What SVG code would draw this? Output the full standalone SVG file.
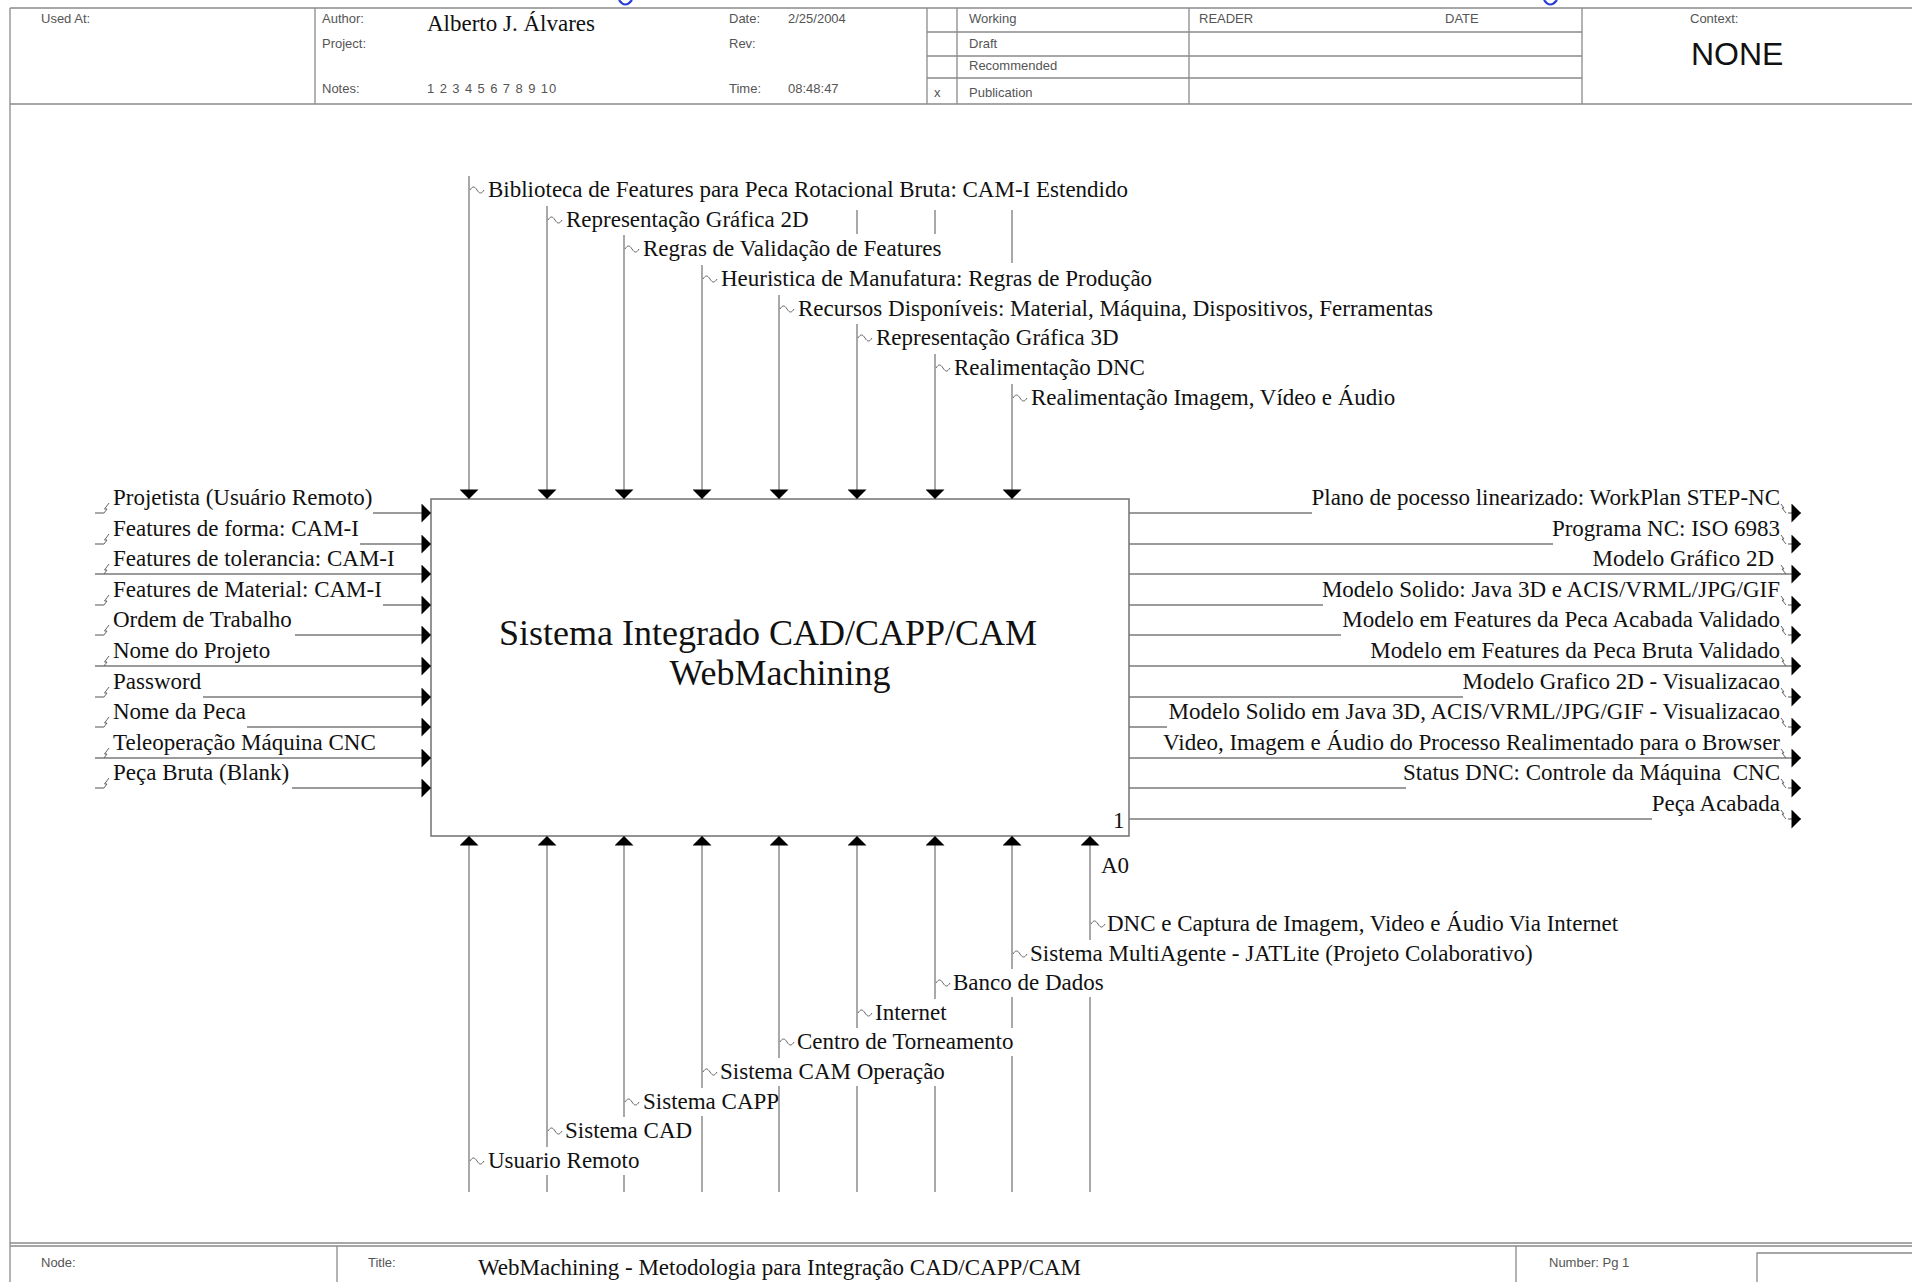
<svg xmlns="http://www.w3.org/2000/svg" width="1912" height="1282" viewBox="0 0 1912 1282">
<style>
  .frame{stroke:#8a8a8a;stroke-width:1.3;fill:none}
  .ln{stroke:#7a7a7a;stroke-width:1.3;fill:none}
  .arr{stroke:#7a7a7a;stroke-width:1.3;fill:none;marker-end:url(#head)}
  .sq{stroke:#555;stroke-width:0.9;fill:none}
  .lbl{font-family:"Liberation Serif","Times New Roman",serif;font-size:23px;fill:#111}
  .end{text-anchor:end}
  .hdr{font-family:"Liberation Sans",Arial,sans-serif;font-size:13px;fill:#555}
  .box{fill:#fff;stroke:#7a7a7a;stroke-width:1.6}
  .title{font-family:"Liberation Serif","Times New Roman",serif;font-size:36px;fill:#111;text-anchor:middle}
</style>
<defs>
  <marker id="head" viewBox="0 0 10 20" refX="10" refY="10" markerWidth="10" markerHeight="19" markerUnits="userSpaceOnUse" orient="auto">
    <path d="M0,0 L10,10 L0,20 Z" fill="#000"/>
  </marker>
</defs>
<rect width="1912" height="1282" fill="#fff"/>

<!-- clipped ascender marks along the top edge -->
<g id="top-edge" stroke="#2b3bd6" stroke-width="2.2" fill="none">
  <path d="M619,0 q6,9 13,0"/>
  <path d="M1544,0 q6,9 13,0"/>
</g>

<!-- drawing frame and header block -->
<g id="header">
  <line class="frame" x1="10" y1="8" x2="1912" y2="8"/>
  <line class="frame" x1="10" y1="104" x2="1912" y2="104" stroke-width="2"/>
  <line class="frame" x1="10" y1="8" x2="10" y2="1282"/>
  <line class="frame" x1="315" y1="8" x2="315" y2="104"/>
  <line class="frame" x1="927" y1="8" x2="927" y2="104"/>
  <line class="frame" x1="957" y1="8" x2="957" y2="104"/>
  <line class="frame" x1="1189" y1="8" x2="1189" y2="104"/>
  <line class="frame" x1="1582" y1="8" x2="1582" y2="104"/>
  <line class="frame" x1="927" y1="32" x2="1582" y2="32"/>
  <line class="frame" x1="927" y1="56" x2="1582" y2="56"/>
  <line class="frame" x1="927" y1="78" x2="1582" y2="78"/>
  <text class="hdr" x="41" y="23">Used At:</text>
  <text class="hdr" x="322" y="23">Author:</text>
  <text class="hdr" x="322" y="48">Project:</text>
  <text class="hdr" x="322" y="93">Notes:</text>
  <text class="lbl" x="427" y="31">Alberto J. Álvares</text>
  <text class="hdr" x="427" y="93" fill="#444" letter-spacing="0.9">1 2 3 4 5 6 7 8 9 10</text>
  <text class="hdr" x="729" y="23">Date:</text>
  <text class="hdr" x="788" y="23" fill="#444">2/25/2004</text>
  <text class="hdr" x="729" y="48">Rev:</text>
  <text class="hdr" x="729" y="93">Time:</text>
  <text class="hdr" x="788" y="93" fill="#444">08:48:47</text>
  <text class="hdr" x="934" y="97">x</text>
  <text class="hdr" x="969" y="23">Working</text>
  <text class="hdr" x="969" y="48">Draft</text>
  <text class="hdr" x="969" y="70">Recommended</text>
  <text class="hdr" x="969" y="97">Publication</text>
  <text class="hdr" x="1199" y="23">READER</text>
  <text class="hdr" x="1445" y="23">DATE</text>
  <text class="hdr" x="1690" y="23">Context:</text>
  <text x="1691" y="65" font-family="Liberation Sans, Arial, sans-serif" font-size="32" fill="#111">NONE</text>
</g>

<!-- footer block -->
<g id="footer">
  <line class="frame" x1="10" y1="1243" x2="1912" y2="1243"/>
  <line class="frame" x1="10" y1="1246" x2="1912" y2="1246"/>
  <line class="frame" x1="337" y1="1246" x2="337" y2="1282"/>
  <line class="frame" x1="1516" y1="1246" x2="1516" y2="1282"/>
  <path class="frame" d="M1757,1282 V1253 H1912"/>
  <text class="hdr" x="41" y="1267">Node:</text>
  <text class="hdr" x="368" y="1267">Title:</text>
  <text class="lbl" x="478" y="1275">WebMachining - Metodologia para Integração CAD/CAPP/CAM</text>
  <text class="hdr" x="1549" y="1267">Number:  Pg 1</text>
</g>

<!-- activity A0 -->
<g id="node-A0">
  <rect class="box" x="431" y="499" width="698" height="337"/>
  <text class="title" x="768" y="645">Sistema Integrado CAD/CAPP/CAM</text>
  <text class="title" x="780" y="685">WebMachining</text>
  <text class="lbl" x="1113" y="828">1</text>
  <text class="lbl" x="1101" y="873">A0</text>
</g>

<g id="connectors">
  <!-- controls (top) -->
  <g id="controls">
    <line class="arr" x1="469" y1="176" x2="469" y2="499"/>
    <line class="arr" x1="547" y1="206" x2="547" y2="499"/>
    <line class="arr" x1="624" y1="235" x2="624" y2="499"/>
    <line class="arr" x1="702" y1="265" x2="702" y2="499"/>
    <line class="arr" x1="779" y1="295" x2="779" y2="499"/>
    <line class="arr" x1="857" y1="324" x2="857" y2="499"/>
    <line class="arr" x1="935" y1="354" x2="935" y2="499"/>
    <line class="arr" x1="1012" y1="384" x2="1012" y2="499"/>
    <line class="ln" x1="857" y1="210" x2="857" y2="234"/>
    <line class="ln" x1="935" y1="210" x2="935" y2="234"/>
    <line class="ln" x1="1012" y1="210" x2="1012" y2="263"/>
    <path class="sq" d="M470,190 c2.5,-4 4.5,-4 7,0 s4.5,4 7,0"/>
    <path class="sq" d="M548,220 c2.5,-4 4.5,-4 7,0 s4.5,4 7,0"/>
    <path class="sq" d="M625,249 c2.5,-4 4.5,-4 7,0 s4.5,4 7,0"/>
    <path class="sq" d="M703,279 c2.5,-4 4.5,-4 7,0 s4.5,4 7,0"/>
    <path class="sq" d="M780,309 c2.5,-4 4.5,-4 7,0 s4.5,4 7,0"/>
    <path class="sq" d="M858,338 c2.5,-4 4.5,-4 7,0 s4.5,4 7,0"/>
    <path class="sq" d="M936,368 c2.5,-4 4.5,-4 7,0 s4.5,4 7,0"/>
    <path class="sq" d="M1013,398 c2.5,-4 4.5,-4 7,0 s4.5,4 7,0"/>
    <text class="lbl" x="488" y="197">Biblioteca de Features para Peca Rotacional Bruta: CAM-I Estendido</text>
    <text class="lbl" x="566" y="227">Representação Gráfica 2D</text>
    <text class="lbl" x="643" y="256">Regras de Validação de Features</text>
    <text class="lbl" x="721" y="286">Heuristica de Manufatura: Regras de Produção</text>
    <text class="lbl" x="798" y="316">Recursos Disponíveis: Material, Máquina, Dispositivos, Ferramentas</text>
    <text class="lbl" x="876" y="345">Representação Gráfica 3D</text>
    <text class="lbl" x="954" y="375">Realimentação DNC</text>
    <text class="lbl" x="1031" y="405">Realimentação Imagem, Vídeo e Áudio</text>
  </g>

  <!-- inputs (left) -->
  <g id="inputs">
    <line class="ln" x1="95" y1="513" x2="104" y2="513"/><line class="arr" x1="373" y1="513" x2="431" y2="513"/>
    <line class="ln" x1="95" y1="544" x2="104" y2="544"/><line class="arr" x1="360" y1="544" x2="431" y2="544"/>
    <line class="arr" x1="95" y1="574" x2="431" y2="574"/>
    <line class="ln" x1="95" y1="605" x2="104" y2="605"/><line class="arr" x1="383" y1="605" x2="431" y2="605"/>
    <line class="ln" x1="95" y1="635" x2="104" y2="635"/><line class="arr" x1="295" y1="635" x2="431" y2="635"/>
    <line class="arr" x1="95" y1="666" x2="431" y2="666"/>
    <line class="ln" x1="95" y1="697" x2="104" y2="697"/><line class="arr" x1="203" y1="697" x2="431" y2="697"/>
    <line class="ln" x1="95" y1="727" x2="104" y2="727"/><line class="arr" x1="247" y1="727" x2="431" y2="727"/>
    <line class="arr" x1="95" y1="758" x2="431" y2="758"/>
    <line class="ln" x1="95" y1="788" x2="104" y2="788"/><line class="arr" x1="292" y1="788" x2="431" y2="788"/>
    <path class="sq" d="M104,513 l3,-4 l-2.5,0 l4.5,-6"/>
    <path class="sq" d="M104,544 l3,-4 l-2.5,0 l4.5,-6"/>
    <path class="sq" d="M104,574 l3,-4 l-2.5,0 l4.5,-6"/>
    <path class="sq" d="M104,605 l3,-4 l-2.5,0 l4.5,-6"/>
    <path class="sq" d="M104,635 l3,-4 l-2.5,0 l4.5,-6"/>
    <path class="sq" d="M104,666 l3,-4 l-2.5,0 l4.5,-6"/>
    <path class="sq" d="M104,697 l3,-4 l-2.5,0 l4.5,-6"/>
    <path class="sq" d="M104,727 l3,-4 l-2.5,0 l4.5,-6"/>
    <path class="sq" d="M104,758 l3,-4 l-2.5,0 l4.5,-6"/>
    <path class="sq" d="M104,788 l3,-4 l-2.5,0 l4.5,-6"/>
    <text class="lbl" x="113" y="505">Projetista (Usuário Remoto)</text>
    <text class="lbl" x="113" y="536">Features de forma: CAM-I</text>
    <text class="lbl" x="113" y="566">Features de tolerancia: CAM-I</text>
    <text class="lbl" x="113" y="597">Features de Material: CAM-I</text>
    <text class="lbl" x="113" y="627">Ordem de Trabalho</text>
    <text class="lbl" x="113" y="658">Nome do Projeto</text>
    <text class="lbl" x="113" y="689">Password</text>
    <text class="lbl" x="113" y="719">Nome da Peca</text>
    <text class="lbl" x="113" y="750">Teleoperação Máquina CNC</text>
    <text class="lbl" x="113" y="780">Peça Bruta (Blank)</text>
  </g>

  <!-- outputs (right) -->
  <g id="outputs">
    <line class="ln" x1="1129" y1="513" x2="1312" y2="513"/><line class="arr" x1="1788" y1="513" x2="1801" y2="513"/>
    <line class="ln" x1="1129" y1="544" x2="1553" y2="544"/><line class="arr" x1="1788" y1="544" x2="1801" y2="544"/>
    <line class="arr" x1="1129" y1="574" x2="1801" y2="574"/>
    <line class="ln" x1="1129" y1="605" x2="1323" y2="605"/><line class="arr" x1="1788" y1="605" x2="1801" y2="605"/>
    <line class="ln" x1="1129" y1="635" x2="1341" y2="635"/><line class="arr" x1="1788" y1="635" x2="1801" y2="635"/>
    <line class="arr" x1="1129" y1="666" x2="1801" y2="666"/>
    <line class="ln" x1="1129" y1="697" x2="1463" y2="697"/><line class="arr" x1="1788" y1="697" x2="1801" y2="697"/>
    <line class="ln" x1="1129" y1="727" x2="1167" y2="727"/><line class="arr" x1="1788" y1="727" x2="1801" y2="727"/>
    <line class="arr" x1="1129" y1="758" x2="1801" y2="758"/>
    <line class="ln" x1="1129" y1="788" x2="1406" y2="788"/><line class="arr" x1="1788" y1="788" x2="1801" y2="788"/>
    <line class="ln" x1="1129" y1="819" x2="1652" y2="819"/><line class="arr" x1="1788" y1="819" x2="1801" y2="819"/>
    <path class="sq" d="M1781,504 l3,4 l-2,0 l4,5"/>
    <path class="sq" d="M1781,535 l3,4 l-2,0 l4,5"/>
    <path class="sq" d="M1781,565 l3,4 l-2,0 l4,5"/>
    <path class="sq" d="M1781,596 l3,4 l-2,0 l4,5"/>
    <path class="sq" d="M1781,626 l3,4 l-2,0 l4,5"/>
    <path class="sq" d="M1781,657 l3,4 l-2,0 l4,5"/>
    <path class="sq" d="M1781,688 l3,4 l-2,0 l4,5"/>
    <path class="sq" d="M1781,718 l3,4 l-2,0 l4,5"/>
    <path class="sq" d="M1781,749 l3,4 l-2,0 l4,5"/>
    <path class="sq" d="M1781,779 l3,4 l-2,0 l4,5"/>
    <path class="sq" d="M1781,810 l3,4 l-2,0 l4,5"/>
    <text class="lbl end" x="1780" y="505">Plano de pocesso linearizado: WorkPlan STEP-NC</text>
    <text class="lbl end" x="1780" y="536">Programa NC: ISO 6983</text>
    <text class="lbl end" x="1774" y="566">Modelo Gráfico 2D</text>
    <text class="lbl end" x="1780" y="597">Modelo Solido: Java 3D e ACIS/VRML/JPG/GIF</text>
    <text class="lbl end" x="1780" y="627">Modelo em Features da Peca Acabada Validado</text>
    <text class="lbl end" x="1780" y="658">Modelo em Features da Peca Bruta Validado</text>
    <text class="lbl end" x="1780" y="689">Modelo Grafico 2D - Visualizacao</text>
    <text class="lbl end" x="1780" y="719">Modelo Solido em Java 3D, ACIS/VRML/JPG/GIF - Visualizacao</text>
    <text class="lbl end" x="1780" y="750">Video, Imagem e Áudio do Processo Realimentado para o Browser</text>
    <text class="lbl end" x="1780" y="780" xml:space="preserve">Status DNC: Controle da Máquina  CNC</text>
    <text class="lbl end" x="1780" y="811">Peça Acabada</text>
  </g>

  <!-- mechanisms (bottom) -->
  <g id="mechanisms">
    <line class="arr" x1="469" y1="1192" x2="469" y2="836"/>
    <line class="ln" x1="547" y1="1192" x2="547" y2="1175"/><line class="arr" x1="547" y1="1147" x2="547" y2="836"/>
    <line class="ln" x1="624" y1="1192" x2="624" y2="1175"/><line class="arr" x1="624" y1="1117" x2="624" y2="836"/>
    <line class="ln" x1="702" y1="1192" x2="702" y2="1116"/><line class="arr" x1="702" y1="1088" x2="702" y2="836"/>
    <line class="ln" x1="779" y1="1192" x2="779" y2="1086"/><line class="arr" x1="779" y1="1058" x2="779" y2="836"/>
    <line class="ln" x1="857" y1="1192" x2="857" y2="1086"/><line class="arr" x1="857" y1="1028" x2="857" y2="836"/>
    <line class="ln" x1="935" y1="1192" x2="935" y2="1086"/><line class="arr" x1="935" y1="999" x2="935" y2="836"/>
    <line class="ln" x1="1012" y1="1192" x2="1012" y2="1056"/><line class="ln" x1="1012" y1="1028" x2="1012" y2="997"/><line class="arr" x1="1012" y1="969" x2="1012" y2="836"/>
    <line class="ln" x1="1090" y1="1192" x2="1090" y2="997"/><line class="arr" x1="1090" y1="940" x2="1090" y2="836"/>
    <path class="sq" d="M1091,924 c2.5,-4 4.5,-4 7,0 s4.5,4 7,0"/>
    <path class="sq" d="M1013,954 c2.5,-4 4.5,-4 7,0 s4.5,4 7,0"/>
    <path class="sq" d="M936,983 c2.5,-4 4.5,-4 7,0 s4.5,4 7,0"/>
    <path class="sq" d="M858,1013 c2.5,-4 4.5,-4 7,0 s4.5,4 7,0"/>
    <path class="sq" d="M780,1042 c2.5,-4 4.5,-4 7,0 s4.5,4 7,0"/>
    <path class="sq" d="M703,1072 c2.5,-4 4.5,-4 7,0 s4.5,4 7,0"/>
    <path class="sq" d="M625,1102 c2.5,-4 4.5,-4 7,0 s4.5,4 7,0"/>
    <path class="sq" d="M548,1131 c2.5,-4 4.5,-4 7,0 s4.5,4 7,0"/>
    <path class="sq" d="M470,1161 c2.5,-4 4.5,-4 7,0 s4.5,4 7,0"/>
    <text class="lbl" x="1107" y="931">DNC e Captura de Imagem, Video e Áudio Via Internet</text>
    <text class="lbl" x="1030" y="961">Sistema MultiAgente - JATLite (Projeto Colaborativo)</text>
    <text class="lbl" x="953" y="990">Banco de Dados</text>
    <text class="lbl" x="875" y="1020">Internet</text>
    <text class="lbl" x="797" y="1049">Centro de Torneamento</text>
    <text class="lbl" x="720" y="1079">Sistema CAM Operação</text>
    <text class="lbl" x="643" y="1109">Sistema CAPP</text>
    <text class="lbl" x="565" y="1138">Sistema CAD</text>
    <text class="lbl" x="488" y="1168">Usuario Remoto</text>
  </g>
</g>
</svg>
